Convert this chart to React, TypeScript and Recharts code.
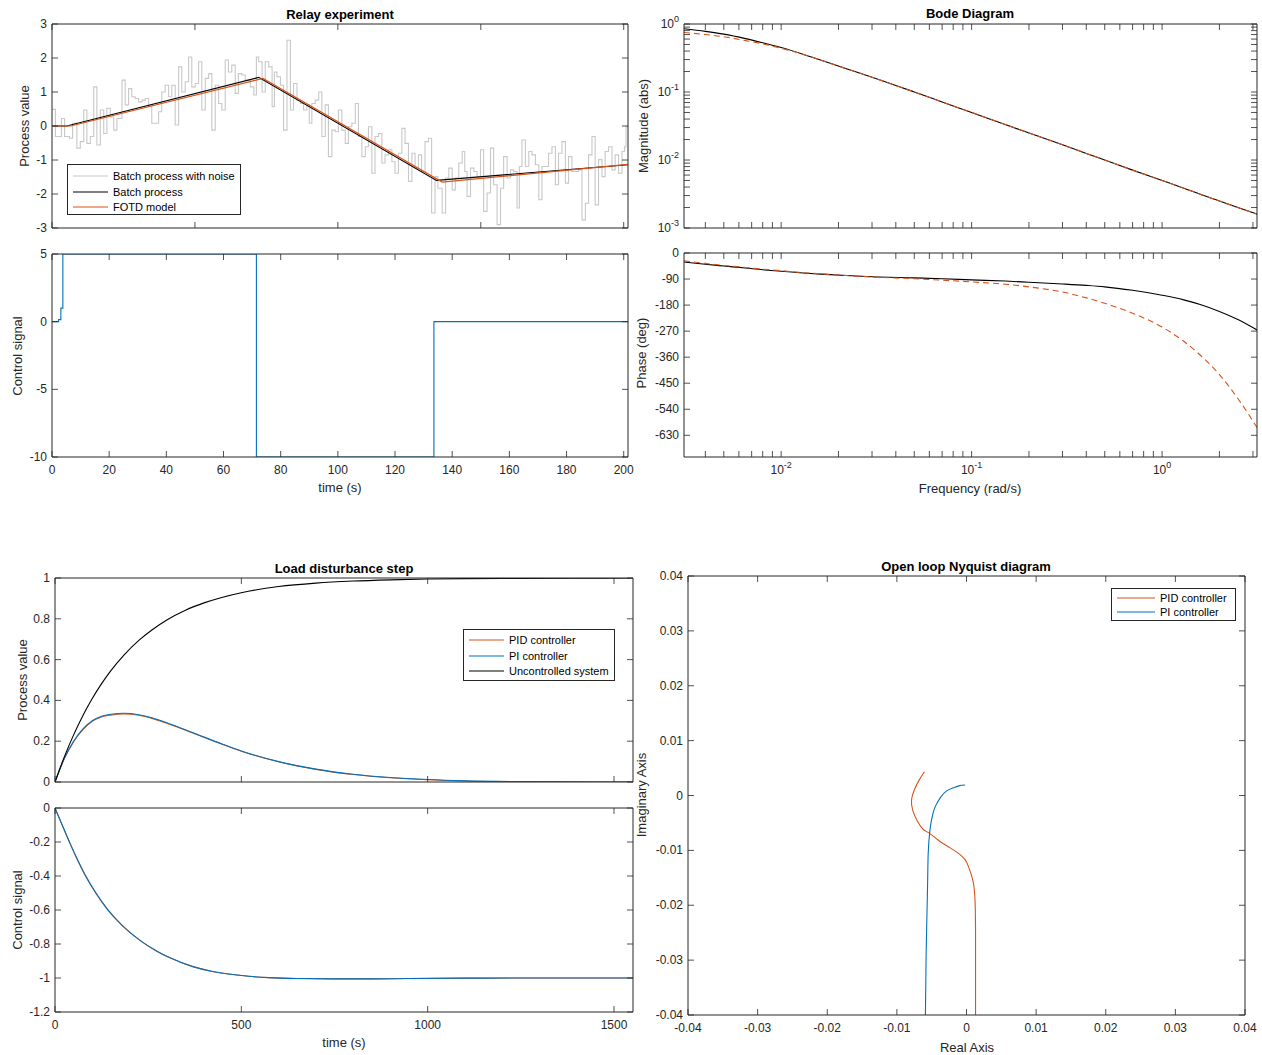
import React from 'react'
import { LineChart, Line, XAxis, YAxis } from 'recharts'

const INK = '#262626'
const BLUE = '#0072BD'
const ORANGE = '#D95319'
const GREY = '#c8c8c8'
const FONT = '"Liberation Sans", Arial, Helvetica, sans-serif'

// ---------- relay experiment ----------
const noiseSamples: [number, number][] = [
  [0, 0.49], [1.2, -0.31], [3.3, 0.22], [4.4, -0.31], [6.1, -0.36], [7.2, 0.08], [8.7, -0.65], [9.9, -0.46],
  [11.1, 0.47], [12.2, -0.51], [13.4, -0.31], [14.6, 1.15], [15.7, -0.56], [16.9, 0.47], [18.1, -0.22], [19.2, 0.52],
  [20.4, 0.27], [21.6, -0.12], [22.7, 0.22], [24.5, 1.35], [25.6, 0.62], [26.8, 1.1], [27.9, 0.86], [29.1, 0.81],
  [30.3, 0.71], [31.5, 0.76], [32.6, 0.81], [33.8, 0.59], [34.9, 0.08], [37.3, 0.42], [38.4, 1.0], [39.6, 1.2],
  [40.8, 0.86], [41.9, 1.2], [43.1, 0.03], [44.3, 1.74], [45.4, 1.0], [46.6, 1.3], [47.8, 2.03], [48.9, 1.15],
  [50.1, 1.25], [51.3, 1.89], [52.4, 0.47], [53.6, 1.4], [54.8, 1.54], [55.9, -0.12], [57.1, 1.2], [58.3, 0.66],
  [59.4, 0.47], [60.6, 1.94], [61.7, 1.59], [62.9, 1.79], [64.1, 0.96], [65.2, 1.54], [66.4, 1.5], [67.6, 1.35],
  [69.4, 1.15], [70.6, 0.91], [71.5, 2.03], [72.3, 1.89], [73.5, 1.0], [74.6, 1.89], [75.8, 1.74], [77.0, 0.57],
  [77.8, 1.59], [78.7, 1.45], [79.9, 1.2], [81.0, -0.12], [82.2, 2.52], [83.4, 0.47], [84.5, 1.25], [85.7, 0.76],
  [86.9, 0.66], [88.0, 0.47], [89.2, 0.62], [90.0, 0.08], [90.9, 0.66], [92.1, 0.76], [93.3, 1.0], [94.4, -0.31],
  [95.6, 0.62], [96.7, -0.9], [97.9, -0.12], [99.1, -0.17], [100.2, 0.47], [101.4, -0.12], [102.6, -0.51], [103.7, -0.02],
  [104.9, 0.08], [106.1, 0.66], [107.2, -0.31], [108.4, -0.9], [109.6, -0.61], [110.7, -0.02], [111.9, -1.39], [113.0, -0.31],
  [114.2, -0.22], [115.4, -1.09], [116.5, -0.85], [117.7, -0.7], [118.9, -1.05], [120.0, -1.39], [121.2, -0.8], [122.4, -0.07],
  [123.5, -0.51], [124.7, -1.63], [125.9, -0.8], [127.0, -1.24], [128.2, -0.85], [129.3, -1.34], [130.5, -0.46], [131.7, -0.36],
  [132.8, -2.56], [134.0, -1.49], [135.0, -1.83], [136.5, -2.56], [137.7, -1.53], [138.8, -1.24], [140.0, -1.88], [141.1, -1.53],
  [142.3, -1.09], [143.5, -0.75], [144.4, -1.34], [145.2, -2.07], [146.4, -1.24], [147.6, -1.34], [148.7, -1.49], [149.9, -0.7],
  [151.0, -2.51], [152.2, -1.97], [153.4, -0.65], [154.5, -1.73], [155.7, -2.9], [156.9, -1.83], [158.0, -0.9], [159.2, -1.53],
  [160.4, -1.29], [161.5, -1.34], [162.7, -2.41], [163.5, -1.19], [164.4, -0.41], [165.6, -1.19], [166.8, -0.75], [167.9, -0.85],
  [169.1, -1.14], [170.3, -2.17], [171.4, -1.19], [172.6, -1.19], [173.7, -0.8], [174.9, -0.61], [176.1, -1.73], [177.2, -0.8],
  [178.4, -0.46], [179.6, -1.68], [180.7, -0.9], [181.9, -1.34], [183.1, -1.34], [184.2, -1.29], [185.4, -2.76], [186.6, -2.27],
  [187.7, -0.85], [188.9, -0.31], [190.0, -2.32], [191.2, -0.99], [192.4, -1.49], [193.5, -0.75], [194.7, -0.61], [195.9, -1.29],
  [197.0, -0.85], [198.2, -1.39], [199.4, -0.75], [200.3, -0.61], [200.8, -0.02], [201.5, -0.02],
]
const batchSamples: [number, number][] = [[0, 0], [5.2, 0], [72.3, 1.43], [134.5, -1.6], [201.5, -1.14]]
const fotdSamples: [number, number][] = [[0, 0], [6.5, 0], [73.8, 1.4], [136.5, -1.65], [201.5, -1.13]]
const relaySamples: [number, number][] = [[0, 0], [2.3, 0.15], [3.1, 1], [3.8, 5], [71.5, -10], [133.6, 0], [201.5, 0]]

// ---------- bode ----------
const bodeFreq = [0.00309, 0.004, 0.005, 0.0065, 0.008, 0.01, 0.013, 0.017, 0.022, 0.03, 0.05, 0.07, 0.1, 0.15, 0.2, 0.3,
  0.4, 0.5, 0.7, 1, 1.3, 1.6, 2, 2.5, 3.15]
const magProcess = [0.85, 0.78, 0.71, 0.61, 0.53, 0.45, 0.36, 0.28, 0.22, 0.165, 0.1, 0.0714, 0.05, 0.0333, 0.025, 0.0167,
  0.0125, 0.01, 0.0071, 0.005, 0.00385, 0.0031, 0.0025, 0.002, 0.0016]
const magModel = [0.75, 0.7, 0.65, 0.57, 0.51, 0.44, 0.36, 0.28, 0.22, 0.165, 0.1, 0.0714, 0.05, 0.0333, 0.025, 0.0167,
  0.0125, 0.01, 0.0071, 0.005, 0.00385, 0.0031, 0.0025, 0.002, 0.0016]
const phaseProcess = [-31, -39, -45, -52, -58, -63, -69, -74, -78, -82, -86, -89, -93, -97, -101, -107, -112, -117, -129,
  -146, -162, -179, -202, -230, -266]
const phaseModel = [-27, -36, -43, -50, -56, -61, -68, -73, -78, -83, -89, -94, -100, -108, -117, -135, -155, -174, -208,
  -256, -305, -355, -420, -503, -603]
const freqTicks = [0.004, 0.005, 0.006, 0.007, 0.008, 0.009, 0.01, 0.02, 0.03, 0.04, 0.05, 0.06, 0.07, 0.08, 0.09, 0.1,
  0.2, 0.3, 0.4, 0.5, 0.6, 0.7, 0.8, 0.9, 1, 2, 3]
const magTicks = [0.001, 0.002, 0.003, 0.004, 0.005, 0.006, 0.007, 0.008, 0.009, 0.01, 0.02, 0.03, 0.04, 0.05, 0.06, 0.07,
  0.08, 0.09, 0.1, 0.2, 0.3, 0.4, 0.5, 0.6, 0.7, 0.8, 0.9, 1]
const phaseTicks = [-630, -540, -450, -360, -270, -180, -90, 0]

// ---------- load disturbance ----------
const loadTime = [0, 25, 50, 75, 100, 125, 150, 185, 225, 260, 300, 350, 400, 450, 500, 600, 700, 800, 900, 1000, 1100, 1250, 1400, 1551]
const yOpen = [0, 0.123, 0.231, 0.326, 0.409, 0.482, 0.546, 0.622, 0.694, 0.745, 0.794, 0.842, 0.878, 0.906, 0.928, 0.958,
  0.975, 0.985, 0.991, 0.995, 0.997, 0.998, 0.999, 1.0]
const yPI = [0, 0.115, 0.2, 0.26, 0.3, 0.322, 0.332, 0.337, 0.33, 0.315, 0.29, 0.256, 0.22, 0.185, 0.152, 0.1, 0.063, 0.038,
  0.022, 0.012, 0.006, 0.002, 0.0005, 0]
const yPID = [0, 0.115, 0.198, 0.257, 0.297, 0.319, 0.328, 0.333, 0.327, 0.312, 0.288, 0.254, 0.219, 0.184, 0.151, 0.099,
  0.062, 0.037, 0.021, 0.011, 0.005, 0.001, 0, 0]
const ctrlTime = [0, 20, 40, 60, 80, 110, 140, 180, 229, 270, 307, 370, 420, 471, 520, 574, 650, 750, 850, 950, 1100, 1300, 1551]
const uPI = [0, -0.103, -0.205, -0.302, -0.39, -0.5, -0.593, -0.69, -0.78, -0.838, -0.88, -0.933, -0.96, -0.978, -0.99,
  -0.998, -1.003, -1.005, -1.005, -1.003, -1.001, -1.0, -1.0]
const uPID = [0, -0.105, -0.207, -0.304, -0.392, -0.502, -0.595, -0.691, -0.78, -0.838, -0.88, -0.933, -0.96, -0.978, -0.99,
  -0.998, -1.003, -1.005, -1.005, -1.003, -1.001, -1.0, -1.0]

// ---------- nyquist ----------
const nyqPID: [number, number][] = [
  [-0.00604, 0.00432], [-0.0068, 0.0028], [-0.0075, 0.001], [-0.0079, -0.00085], [-0.0077, -0.0028], [-0.007, -0.0048],
  [-0.0062, -0.0062], [-0.0053, -0.0069], [-0.004, -0.0082], [-0.0024, -0.0095], [-0.0011, -0.0106], [-0.0002, -0.0117],
  [0.0003, -0.013], [0.00097, -0.0158], [0.00125, -0.02], [0.0013, -0.025], [0.0013, -0.03], [0.0013, -0.035], [0.0013, -0.04],
]
const nyqPI: [number, number][] = [
  [-0.0002, 0.0019], [-0.001, 0.0018], [-0.0019, 0.0014], [-0.0029, 0.0008], [-0.0037, -0.0003], [-0.0044, -0.0018],
  [-0.0048, -0.0032], [-0.0051, -0.005], [-0.0053, -0.0069], [-0.0055, -0.0105], [-0.0056, -0.017], [-0.0058, -0.029], [-0.0059, -0.04],
]
const nyqTicks = [-0.04, -0.03, -0.02, -0.01, 0, 0.01, 0.02, 0.03, 0.04]

const pairs = (p: [number, number][]) => p.map(([x, y]) => ({ x, y }))
const zip = (xs: number[], ys: number[]) => xs.map((x, i) => ({ x, y: ys[i] }))

const num = (v: number) => String(Math.round(v * 1e6) / 1e6)
const pow10 = (v: number): React.ReactNode => {
  const e = Math.round(Math.log10(v))
  if (Math.abs(Math.log10(v) - e) > 1e-6) return ''
  return (
    <>
      10<tspan dy={-6} fontSize={9}>{e}</tspan>
    </>
  )
}

type Side = 'bottom' | 'top' | 'left' | 'right'
const TL = 6

const makeTick = (side: Side, label?: (v: number) => React.ReactNode) => (p: any) => {
  const { x, y, payload } = p
  const txt = label ? label(payload.value) : ''
  const l =
    side === 'bottom' ? [x, y, x, y - TL] : side === 'top' ? [x, y, x, y + TL] : side === 'left' ? [x, y, x + TL, y] : [x, y, x - TL, y]
  return (
    <g>
      <line x1={l[0]} y1={l[1]} x2={l[2]} y2={l[3]} stroke={INK} strokeWidth={0.8} />
      {txt !== '' &&
        (side === 'bottom' ? (
          <text x={x} y={y + 17} textAnchor='middle' fontSize={12} fill={INK} fontFamily={FONT}>{txt}</text>
        ) : (
          <text x={x - 5} y={y + 4} textAnchor='end' fontSize={12} fill={INK} fontFamily={FONT}>{txt}</text>
        ))}
    </g>
  )
}

type Spec = {
  box: [number, number, number, number]
  xDomain: [number, number]
  xTicks: number[]
  xLabel?: (v: number) => React.ReactNode
  xLog?: boolean
  yDomain: [number, number]
  yTicks: number[]
  yLabel?: (v: number) => React.ReactNode
  yLog?: boolean
}

const PAD = { l: 50, r: 24, t: 10, b: 30 }

// bottom/left axes carry the labels, top/right ones only close the box with ticks
const axes = (s: Spec) => [
  <XAxis key='xb' xAxisId='b' orientation='bottom' type='number' dataKey='x' domain={s.xDomain} ticks={s.xTicks}
    scale={s.xLog ? 'log' : 'linear'} allowDataOverflow interval={0} tickLine={false} tickSize={0} tickMargin={0}
    height={PAD.b} axisLine={{ stroke: INK }} tick={makeTick('bottom', s.xLabel)} />,
  <XAxis key='xt' xAxisId='t' orientation='top' type='number' dataKey='x' domain={s.xDomain} ticks={s.xTicks}
    scale={s.xLog ? 'log' : 'linear'} allowDataOverflow interval={0} tickLine={false} tickSize={0} tickMargin={0}
    height={1} axisLine={{ stroke: INK }} tick={makeTick('top')} />,
  <YAxis key='yl' yAxisId='l' orientation='left' type='number' domain={s.yDomain} ticks={s.yTicks}
    scale={s.yLog ? 'log' : 'linear'} allowDataOverflow interval={0} tickLine={false} tickSize={0} tickMargin={0}
    width={PAD.l} axisLine={{ stroke: INK }} tick={makeTick('left', s.yLabel)} />,
  <YAxis key='yr' yAxisId='r' orientation='right' type='number' domain={s.yDomain} ticks={s.yTicks}
    scale={s.yLog ? 'log' : 'linear'} allowDataOverflow interval={0} tickLine={false} tickSize={0} tickMargin={0}
    width={1} axisLine={{ stroke: INK }} tick={makeTick('right')} />,
]

const Panel = ({ spec, children }: { spec: Spec; children: React.ReactNode }) => {
  const [x1, y1, x2, y2] = spec.box
  return (
    <div style={{ position: 'absolute', left: x1 - PAD.l, top: y1 - PAD.t }}>
      <LineChart width={x2 - x1 + PAD.l + PAD.r} height={y2 - y1 + PAD.t + PAD.b}
        margin={{ top: PAD.t - 1, right: PAD.r - 1, bottom: 0, left: 0 }}>
        {axes(spec)}
        {children}
      </LineChart>
    </div>
  )
}

const series = (key: string, data: { x: number; y: number }[], color: string, type: any = 'linear', dash?: string) => (
  <Line key={key} xAxisId='b' yAxisId='l' data={data} dataKey='y' type={type} stroke={color} strokeWidth={1.1}
    strokeDasharray={dash} dot={false} activeDot={false} isAnimationActive={false} />
)

const Txt = ({ x, y, text, rot, bold }: { x: number; y: number; text: string; rot?: boolean; bold?: boolean }) => (
  <div style={{
    position: 'absolute', left: x, top: y, transform: `translate(-50%, -50%)${rot ? ' rotate(-90deg)' : ''}`,
    whiteSpace: 'nowrap', fontSize: 13, fontWeight: bold ? 'bold' : 'normal', color: bold ? '#000' : INK, lineHeight: 1,
  }}>{text}</div>
)

type Item = { label: string; color: string }
const LegendBox = ({ x, y, w, h, items, rows, line }: { x: number; y: number; w: number; h: number; items: Item[]; rows: number[]; line: number }) => (
  <div style={{ position: 'absolute', left: x, top: y, width: w, height: h, border: `1px solid ${INK}`, background: '#fff', boxSizing: 'border-box' }}>
    {items.map((it, i) => (
      <div key={i} style={{ position: 'absolute', left: 5, top: rows[i], transform: 'translateY(-50%)', display: 'flex', alignItems: 'center' }}>
        <div style={{ width: line, borderTop: `1px solid ${it.color}` }} />
        <span style={{ marginLeft: 5, fontSize: 11, color: '#000', whiteSpace: 'nowrap', lineHeight: 1 }}>{it.label}</span>
      </div>
    ))}
  </div>
)

const relayTop: Spec = { box: [51.5, 24, 627.5, 228], xDomain: [0, 201.5], xTicks: [0, 50, 100, 150, 200],
  yDomain: [-3, 3], yTicks: [-3, -2, -1, 0, 1, 2, 3], yLabel: num }
const relayBottom: Spec = { box: [51.5, 254, 627.5, 457], xDomain: [0, 201.5], xTicks: [0, 20, 40, 60, 80, 100, 120, 140, 160, 180, 200],
  xLabel: num, yDomain: [-10, 5], yTicks: [-10, -5, 0, 5], yLabel: num }
const bodeMag: Spec = { box: [684, 24, 1257, 228], xDomain: [0.00309, 3.15], xTicks: freqTicks, xLog: true,
  yDomain: [0.001, 1], yTicks: magTicks, yLabel: pow10, yLog: true }
const bodePhase: Spec = { box: [684, 253, 1257, 457], xDomain: [0.00309, 3.15], xTicks: freqTicks, xLog: true, xLabel: pow10,
  yDomain: [-705, 0], yTicks: phaseTicks, yLabel: num }
const loadTop: Spec = { box: [55, 578, 633, 782], xDomain: [0, 1551], xTicks: [0, 500, 1000, 1500],
  yDomain: [0, 1], yTicks: [0, 0.2, 0.4, 0.6, 0.8, 1], yLabel: num }
const loadBottom: Spec = { box: [55, 808, 633, 1012], xDomain: [0, 1551], xTicks: [0, 500, 1000, 1500], xLabel: num,
  yDomain: [-1.2, 0], yTicks: [-1.2, -1, -0.8, -0.6, -0.4, -0.2, 0], yLabel: num }
const nyquist: Spec = { box: [688, 576, 1245, 1015], xDomain: [-0.04, 0.04], xTicks: nyqTicks, xLabel: num,
  yDomain: [-0.04, 0.04], yTicks: nyqTicks, yLabel: num }

export default function App() {
  return (
    <div style={{ position: 'absolute', left: 0, top: 0, width: 1262, height: 1055, background: '#fff', fontFamily: FONT, overflow: 'hidden' }}>
      <Panel spec={relayTop}>
        {series('noise', pairs(noiseSamples), GREY, 'stepAfter')}
        {series('batch', pairs(batchSamples), '#000')}
        {series('fotd', pairs(fotdSamples), ORANGE)}
      </Panel>
      <Panel spec={relayBottom}>
        {series('u', pairs(relaySamples), BLUE, 'stepAfter')}
      </Panel>
      <Panel spec={bodeMag}>
        {series('mp', zip(bodeFreq, magProcess), '#000', 'monotone')}
        {series('mm', zip(bodeFreq, magModel), ORANGE, 'monotone', '6 4')}
      </Panel>
      <Panel spec={bodePhase}>
        {series('pp', zip(bodeFreq, phaseProcess), '#000', 'monotone')}
        {series('pm', zip(bodeFreq, phaseModel), ORANGE, 'monotone', '6 4')}
      </Panel>
      <Panel spec={loadTop}>
        {series('ypid', zip(loadTime, yPID), ORANGE, 'monotone')}
        {series('ypi', zip(loadTime, yPI), BLUE, 'monotone')}
        {series('yol', zip(loadTime, yOpen), '#000', 'monotone')}
      </Panel>
      <Panel spec={loadBottom}>
        {series('upid', zip(ctrlTime, uPID), ORANGE, 'monotone')}
        {series('upi', zip(ctrlTime, uPI), BLUE, 'monotone')}
      </Panel>
      <Panel spec={nyquist}>
        {series('npid', pairs(nyqPID), ORANGE, 'natural')}
        {series('npi', pairs(nyqPI), BLUE, 'natural')}
      </Panel>

      <Txt x={340} y={14} text='Relay experiment' bold />
      <Txt x={970} y={13} text='Bode Diagram' bold />
      <Txt x={344} y={568} text='Load disturbance step' bold />
      <Txt x={966} y={566} text='Open loop Nyquist diagram' bold />

      <Txt x={24} y={126} text='Process value' rot />
      <Txt x={17} y={356} text='Control signal' rot />
      <Txt x={340} y={487} text='time (s)' />
      <Txt x={643} y={126} text='Magnitude (abs)' rot />
      <Txt x={641} y={353} text='Phase (deg)' rot />
      <Txt x={970} y={488} text='Frequency (rad/s)' />
      <Txt x={22} y={680} text='Process value' rot />
      <Txt x={17} y={910} text='Control signal' rot />
      <Txt x={344} y={1042} text='time (s)' />
      <Txt x={641} y={795} text='Imaginary Axis' rot />
      <Txt x={967} y={1047} text='Real Axis' />

      <LegendBox x={67} y={164} w={174} h={51} rows={[11, 26.5, 41.5]} line={35}
        items={[{ label: 'Batch process with noise', color: GREY }, { label: 'Batch process', color: '#000' }, { label: 'FOTD model', color: ORANGE }]} />
      <LegendBox x={463} y={629} w={152} h={52} rows={[10, 26, 41]} line={35}
        items={[{ label: 'PID controller', color: ORANGE }, { label: 'PI controller', color: BLUE }, { label: 'Uncontrolled system', color: '#000' }]} />
      <LegendBox x={1111} y={588} w={125} h={33} rows={[9, 23]} line={38}
        items={[{ label: 'PID controller', color: ORANGE }, { label: 'PI controller', color: BLUE }]} />
    </div>
  )
}
